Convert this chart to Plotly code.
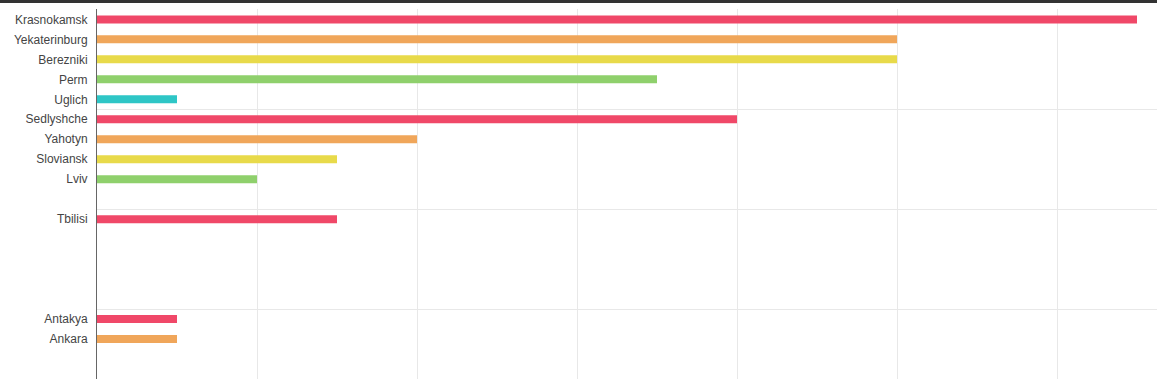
import plotly.graph_objects as go

# ---- data ----
countries = ["Russia", "Ukraine", "Georgia", "Turkey"]
cities_russia = ["Krasnokamsk", "Yekaterinburg", "Berezniki", "Perm", "Uglich"]
values_russia = [13, 10, 10, 7, 1]
cities_ukraine = ["Sedlyshche", "Yahotyn", "Sloviansk", "Lviv"]
values_ukraine = [8, 4, 3, 2]
cities_georgia = ["Tbilisi"]
values_georgia = [3]
cities_turkey = ["Antakya", "Ankara"]
values_turkey = [1, 1]

rank_colors = ["#f04868", "#f0a65a", "#e8da4a", "#8fd06c", "#2ec6c6"]

groups = [
    (cities_russia, values_russia),
    (cities_ukraine, values_ukraine),
    (cities_georgia, values_georgia),
    (cities_turkey, values_turkey),
]
GROUP_SLOTS = 5

# build one trace per rank (colour)
rank_data = {r: {"x": [], "y": [], "names": []} for r in range(GROUP_SLOTS)}
tickvals, ticktext = [], []
for gi, (cities, vals) in enumerate(groups):
    for ri, (c, v) in enumerate(zip(cities, vals)):
        slot = gi * GROUP_SLOTS + ri
        rank_data[ri]["x"].append(v)
        rank_data[ri]["y"].append(slot)
        rank_data[ri]["names"].append(c)
        tickvals.append(slot)
        ticktext.append(c)

fig = go.Figure()
for r in range(GROUP_SLOTS):
    d = rank_data[r]
    if not d["x"]:
        continue
    fig.add_trace(go.Bar(
        x=d["x"], y=d["y"], orientation="h",
        marker=dict(color=rank_colors[r], line=dict(width=0)),
        width=0.4, showlegend=False,
        hovertext=d["names"],
    ))

boundaries = [g * GROUP_SLOTS - 0.5 for g in range(len(groups))]

fig.update_layout(
    width=1157, height=379,
    margin=dict(l=97, r=0, t=9, b=0),
    paper_bgcolor="white", plot_bgcolor="white",
    barmode="overlay",
    font=dict(family="Liberation Sans, Arial, sans-serif", size=12, color="#444444"),
    xaxis=dict(
        range=[0, 13.25], dtick=2, tick0=0,
        showgrid=True, gridcolor="#e8e8e8", gridwidth=1,
        zeroline=False, showticklabels=False, showline=False,
        fixedrange=True,
    ),
    yaxis=dict(
        range=[18.0, -0.52], autorange=False,
        tickmode="array", tickvals=tickvals, ticktext=ticktext,
        showgrid=False, zeroline=False,
        showline=True, linecolor="#666666", linewidth=1,
        ticks="", ticklabelstandoff=6,
        tickfont=dict(size=12, color="#444444"),
        minor=dict(tickmode="array", tickvals=boundaries, showgrid=True,
                   gridcolor="#e8e8e8", gridwidth=1, ticks=""),
    ),
    shapes=[
        dict(type="rect", xref="paper", yref="paper",
             x0=-97 / 1060, x1=1.0, y0=1 + 6 / 370, y1=1 + 9 / 370,
             fillcolor="#333333", line=dict(width=0), layer="above"),
    ],
)

fig.write_html(
    "out.html",
    config={"displayModeBar": False},
    post_script="document.body.style.margin='0px';document.body.style.overflow='hidden';",
)
